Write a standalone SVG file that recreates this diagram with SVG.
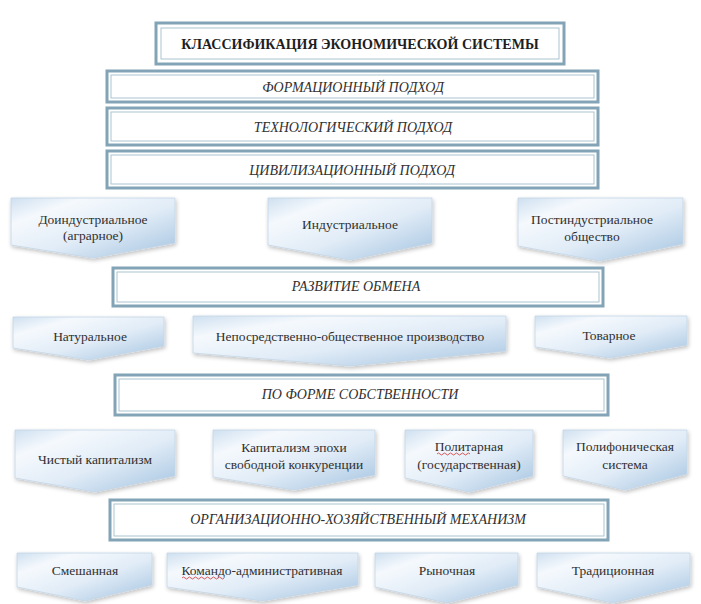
<svg xmlns="http://www.w3.org/2000/svg" width="701" height="604" viewBox="0 0 701 604">
<defs>
<linearGradient id="pg" x1="0" y1="0" x2="1" y2="1">
<stop offset="0" stop-color="#cfe0f0"/>
<stop offset="0.22" stop-color="#f5f9fd"/>
<stop offset="0.55" stop-color="#e1ecf7"/>
<stop offset="1" stop-color="#a3c3e0"/>
</linearGradient>
<filter id="sh" x="-10%" y="-10%" width="125%" height="130%">
<feGaussianBlur in="SourceAlpha" stdDeviation="2"/>
<feOffset dx="1" dy="2" result="b"/>
<feComponentTransfer><feFuncA type="linear" slope="0.25"/></feComponentTransfer>
<feMerge><feMergeNode/><feMergeNode in="SourceGraphic"/></feMerge>
</filter>
</defs>
<style>
.bg{fill:#ffffff}
.box{fill:#ffffff;stroke:#82a4b6;stroke-width:3}
.inner{fill:none;stroke:#aac3d0;stroke-width:1}
.pent{fill:url(#pg);stroke:#c3d6e6;stroke-width:0.8;filter:url(#sh)}
text{font-family:'Liberation Serif','Times New Roman',serif;font-size:13.5px;fill:#303030;text-anchor:middle}
.it{font-style:italic;font-size:14px}
.title{font-weight:bold;font-size:14px;fill:#1e1e1e}
.sq{fill:none;stroke:#d03030;stroke-width:0.8}
</style>
<rect class="bg" x="0" y="0" width="701" height="604"/>

<g id="title">
<rect class="box" x="156" y="23" width="408" height="41"/>
<rect class="inner" x="161" y="28" width="398" height="31"/>
<text class="title" x="360" y="49">КЛАССИФИКАЦИЯ ЭКОНОМИЧЕСКОЙ СИСТЕМЫ</text>
</g>

<g id="formation">
<rect class="box" x="107" y="71" width="491" height="31"/>
<rect class="inner" x="111" y="75" width="483" height="23"/>
<text class="it" x="353" y="92">ФОРМАЦИОННЫЙ ПОДХОД</text>
</g>
<g id="tech">
<rect class="box" x="107" y="108" width="491" height="37"/>
<rect class="inner" x="111" y="112" width="483" height="29"/>
<text class="it" x="353" y="132">ТЕХНОЛОГИЧЕСКИЙ ПОДХОД</text>
</g>
<g id="civil">
<rect class="box" x="107" y="151" width="491" height="37"/>
<rect class="inner" x="111" y="155" width="483" height="29"/>
<text class="it" x="352" y="175">ЦИВИЛИЗАЦИОННЫЙ ПОДХОД</text>
</g>

<g id="preind">
<polygon class="pent" points="11,198 175,198 175,243 93,258 11,245"/>
<text x="93" y="224">Доиндустриальное</text>
<text x="93" y="240">(аграрное)</text>
</g>
<g id="ind">
<polygon class="pent" points="268,198 432,198 432,243 350,260 268,245"/>
<text x="350" y="229">Индустриальное</text>
</g>
<g id="postind">
<polygon class="pent" points="518,198 683,198 683,244 600,261 518,246"/>
<text x="592" y="224">Постиндустриальное</text>
<text x="592" y="241">общество</text>
</g>

<g id="exchange">
<rect class="box" x="113" y="268" width="490" height="38"/>
<rect class="inner" x="117" y="272" width="482" height="30"/>
<text class="it" x="356" y="291">РАЗВИТИЕ ОБМЕНА</text>
</g>

<g id="natural">
<polygon class="pent" points="13,317 164,317 164,346 89,360 13,348"/>
<text x="90" y="341">Натуральное</text>
</g>
<g id="direct">
<polygon class="pent" points="193,316 506,316 506,351 350,366 193,353"/>
<text x="350" y="341">Непосредственно-общественное производство</text>
</g>
<g id="commodity">
<polygon class="pent" points="535,316 687,316 687,345 610,358 535,347"/>
<text x="609" y="340">Товарное</text>
</g>

<g id="property">
<rect class="box" x="115" y="375" width="493" height="40"/>
<rect class="inner" x="119" y="379" width="485" height="32"/>
<text class="it" x="360" y="399">ПО ФОРМЕ СОБСТВЕННОСТИ</text>
</g>

<g id="pure">
<polygon class="pent" points="15,430 175,430 175,476 95,492 15,478"/>
<text x="95" y="464">Чистый капитализм</text>
</g>
<g id="freecomp">
<polygon class="pent" points="213,430 375,430 375,475 294,490 213,477"/>
<text x="294" y="452">Капитализм эпохи</text>
<text x="294" y="469">свободной конкуренции</text>
</g>
<g id="politar">
<polygon class="pent" points="405,430 533,430 533,476 469,492 405,478"/>
<text x="469" y="451">Политарная</text>
<path class="sq" d="M437,454 q1.5,-2 3,0 t3,0 t3,0 t3,0 t3,0 t3,0 t3,0 t3,0 t3,0 t3,0 t3,0"/>
<text x="469" y="469">(государственная)</text>
</g>
<g id="polyphonic">
<polygon class="pent" points="563,430 687,430 687,474 625,490 563,476"/>
<text x="625" y="451">Полифоническая</text>
<text x="625" y="469">система</text>
</g>

<g id="orgmech">
<rect class="box" x="110" y="500" width="498" height="40"/>
<rect class="inner" x="114" y="504" width="490" height="32"/>
<text class="it" x="358" y="524">ОРГАНИЗАЦИОННО-ХОЗЯЙСТВЕННЫЙ МЕХАНИЗМ</text>
</g>

<g id="mixed">
<polygon class="pent" points="17,553 152,553 152,585 85,601 17,587"/>
<text x="85" y="575">Смешанная</text>
</g>
<g id="command">
<polygon class="pent" points="167,553 358,553 358,585 262,601 167,587"/>
<text x="262" y="575">Командо-административная</text>
<path class="sq" d="M182,578 q1.5,-2 3,0 t3,0 t3,0 t3,0 t3,0 t3,0 t3,0 t3,0 t3,0 t3,0 t3,0 t3,0 t3,0 t3,0"/>
</g>
<g id="market">
<polygon class="pent" points="375,553 518,553 518,585 447,603 375,587"/>
<text x="447" y="575">Рыночная</text>
</g>
<g id="traditional">
<polygon class="pent" points="537,553 690,553 690,585 613,603 537,587"/>
<text x="613" y="575">Традиционная</text>
</g>

<g id="connectors"></g>
</svg>
